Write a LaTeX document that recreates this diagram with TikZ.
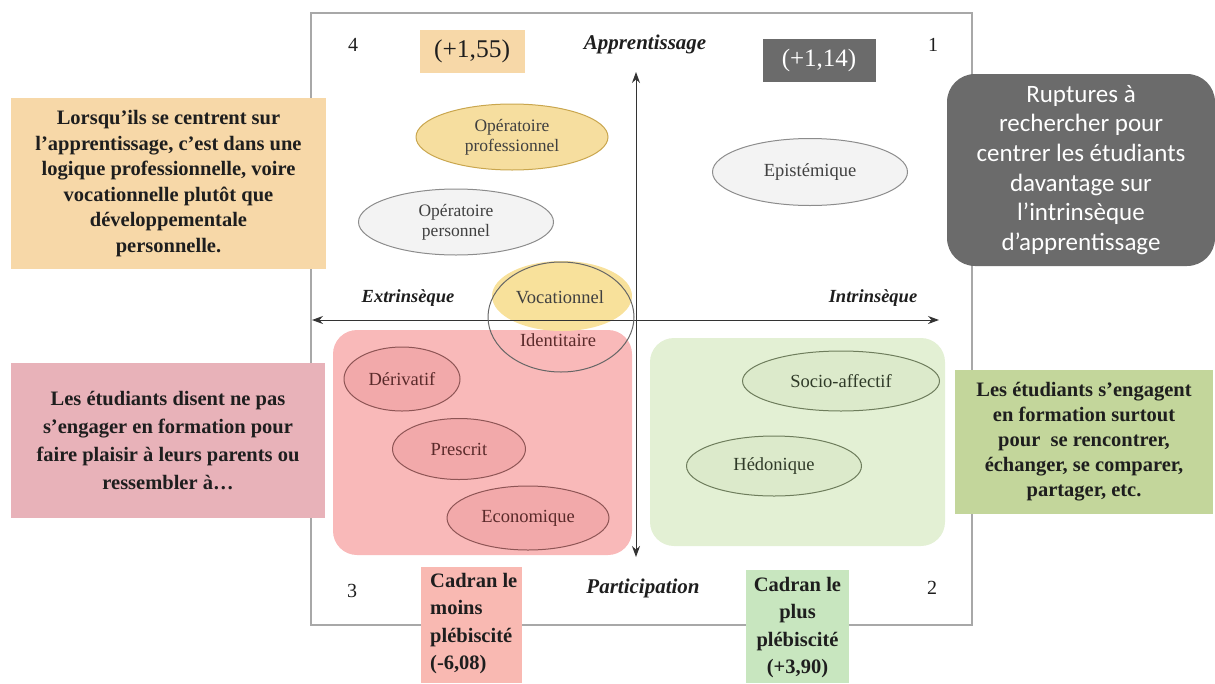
\documentclass[tikz,border=0pt]{standalone}
\usepackage{fontspec}
\setmainfont{Liberation Serif}
\newfontfamily\calibri{Carlito}
\usetikzlibrary{arrows.meta,shapes.geometric}
\definecolor{orbox}{HTML}{F7D8A8}
\definecolor{orell}{HTML}{F6DE9F}
\definecolor{oredge}{HTML}{C9A64E}
\definecolor{yel}{HTML}{F8E19B}
\definecolor{grell}{HTML}{F3F3F3}
\definecolor{gredge}{HTML}{8C8C8C}
\definecolor{grbox}{HTML}{6B6B6B}
\definecolor{pkreg}{HTML}{F9B9B9}
\definecolor{pkell}{HTML}{F2A9AA}
\definecolor{pkedge}{HTML}{8E5555}
\definecolor{pktxt}{HTML}{5A2A2A}
\definecolor{gnreg}{HTML}{E3F0D4}
\definecolor{gnell}{HTML}{DCEACB}
\definecolor{gnedge}{HTML}{6E7D5C}
\definecolor{gntxt}{HTML}{2F3A28}
\definecolor{pkbox}{HTML}{E8B2B9}
\definecolor{gnbox}{HTML}{C3D69B}
\definecolor{cadpk}{HTML}{F9B9B2}
\definecolor{cadgn}{HTML}{C8E6BF}
\definecolor{frame}{HTML}{A8A8A8}
\definecolor{txt}{HTML}{1E1E1E}
\tikzset{
  ell/.style={ellipse, inner sep=0pt, line width=1pt, align=center, font=\fontsize{18.5}{20}\selectfont},
  two/.style={font=\fontsize{17.5}{20}\selectfont},
  oell/.style={ell, draw=oredge, fill=orell, text=black!75},
  gell/.style={ell, draw=gredge, fill=grell, text=black!75},
  pell/.style={ell, draw=pkedge, fill=pkell, text=pktxt},
  vell/.style={ell, draw=gnedge, fill=gnell, text=gntxt},
  axis/.style={line width=1pt, black!80, {Stealth[length=11pt,width=8pt]}-{Stealth[length=11pt,width=8pt]}},
  axlab/.style={font=\fontsize{21}{23}\selectfont\bfseries\itshape, text=txt},
  axlabs/.style={font=\fontsize{18.5}{20}\selectfont\bfseries\itshape, text=txt},
  num/.style={font=\fontsize{20}{22}\selectfont, text=txt},
  sidebox/.style={inner sep=0pt, align=center, text=txt, font=\fontsize{20.5}{25.5}\selectfont\bfseries},
}
\begin{document}
\begin{tikzpicture}[x=1pt,y=-1pt]
\useasboundingbox (0,0) rectangle (1215,683);
% frame
\draw[frame, line width=1.8pt] (311,13) rectangle (972,625);
% quadrant regions
\fill[pkreg, rounded corners=24pt] (333,330) rectangle (632,555);
\fill[gnreg, rounded corners=24pt] (650,338) rectangle (945,546);
% vocationnel yellow
\node[ell, fill=yel, minimum width=140pt, minimum height=70pt] (voc) at (562,296) {};
% axes
\coordinate (top) at (636,72);
\coordinate (bot) at (636,557);
\coordinate (left) at (312,320);
\coordinate (right) at (939,320);
\draw[axis] (bot) -- (top);
\draw[axis] (left) -- (right);
\node[ell, text=black!75] (voct) at (560,297) {Vocationnel};
% identitaire ring
\node[ellipse, draw=black!60, line width=1pt, minimum width=146pt, minimum height=110pt, inner sep=0pt] (ring) at (561,317) {};
\node[ell, text=pktxt] (ident) at (558,340) {Identitaire};
% ellipses
\node[oell, two, minimum width=192pt, minimum height=66pt] (opro) at (512,137) {Opératoire\\professionnel};
\node[gell, two, minimum width=195pt, minimum height=66pt] (oper) at (456,222) {Opératoire\\personnel};
\node[gell, minimum width=195pt, minimum height=67pt] (epi) at (810,172) {Epistémique};
\node[pell, minimum width=116pt, minimum height=64pt] (der) at (402,379) {Dérivatif};
\node[pell, minimum width=133pt, minimum height=61pt] (pre) at (459,449) {Prescrit};
\node[pell, minimum width=162pt, minimum height=64pt] (eco) at (528,518) {Economique};
\node[vell, minimum width=197pt, minimum height=60pt] (soc) at (841,381) {Socio-affectif};
\node[vell, minimum width=175pt, minimum height=60pt] (hed) at (774,466) {Hédonique};
% axis labels
\node[axlab] (app) at (645,44) {Apprentissage};
\node[axlab] (par) at (643,588) {Participation};
\node[axlabs] (ext) at (408,298) {Extrinsèque};
\node[axlabs] (int) at (873,298) {Intrinsèque};
% quadrant numbers
\node[num] (q4) at (353,45) {4};
\node[num] (q1) at (933,45) {1};
\node[num] (q3) at (352,591) {3};
\node[num] (q2) at (932,588) {2};
% scores
\node[fill=orbox, minimum width=105pt, minimum height=43pt, inner sep=0pt, font=\fontsize{25.5}{27}\selectfont, text=txt] (s4) at (472,51) {(+1,55)};
\node[fill=grbox, minimum width=113pt, minimum height=43pt, inner sep=0pt, font=\fontsize{25}{27}\selectfont, text=white] (s1) at (819,60) {(+1,14)};
% side boxes
\node[sidebox, fill=orbox, minimum width=315pt, minimum height=171pt] (lbox1) at (168.5,183.5) {Lorsqu’ils se centrent sur\\l’apprentissage, c’est dans une\\logique professionnelle, voire\\vocationnelle plutôt que\\développementale\\personnelle.};
\node[sidebox, fill=pkbox, minimum width=314pt, minimum height=155pt, font=\fontsize{20.5}{28}\selectfont\bfseries] (lbox2) at (168,440.5) {Les étudiants disent ne pas\\s’engager en formation pour\\faire plaisir à leurs parents ou\\ressembler à\ldots};
\node[fill=grbox, rounded corners=28pt, minimum width=268pt, minimum height=192pt, inner sep=0pt, align=center, text=white, font=\calibri\fontsize{25}{29.6}\selectfont] (rbox1) at (1081,170) {Ruptures à\\rechercher pour\\centrer les étudiants\\davantage sur\\l’intrinsèque\\d’apprentissage};
\node[sidebox, fill=gnbox, minimum width=258pt, minimum height=144pt, font=\fontsize{20.5}{25}\selectfont\bfseries] (rbox2) at (1084,442) {Les étudiants s’engagent\\en formation surtout\\pour~ se rencontrer,\\échanger, se comparer,\\partager, etc.};
% cadran boxes
\node[fill=cadpk, minimum width=101pt, minimum height=116pt, inner sep=0pt, anchor=north west] (cmoins) at (421,567) {};
\node[anchor=north west, align=left, inner sep=0pt, text=txt, font=\fontsize{20.5}{27.5}\selectfont\bfseries] (cmoinst) at (430,573) {Cadran le\\moins\\plébiscité\\(-6,08)};
\node[fill=cadgn, minimum width=103pt, minimum height=113pt, inner sep=0pt, anchor=north west] (cplus) at (746,570) {};
\node[anchor=north, align=center, inner sep=0pt, text=txt, font=\fontsize{20.5}{27.5}\selectfont\bfseries] (cplust) at (797.5,577) {Cadran le\\plus\\plébiscité\\(+3,90)};
\end{tikzpicture}
\end{document}
